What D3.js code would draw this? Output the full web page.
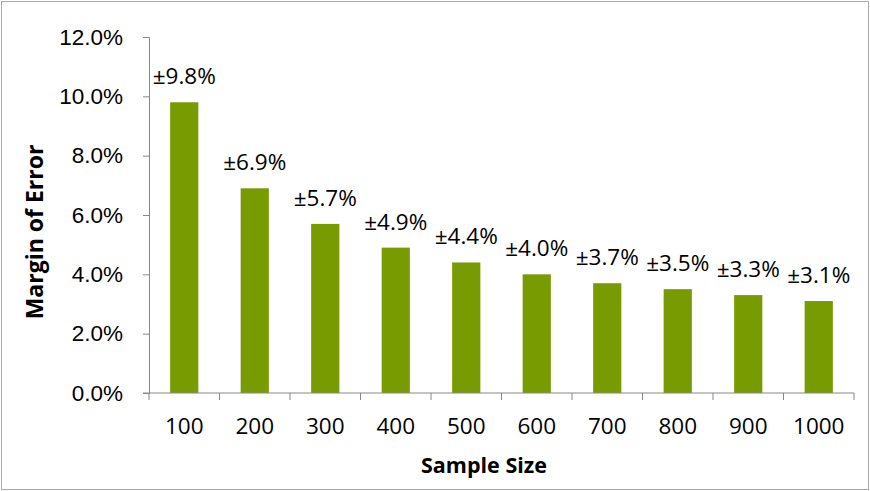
<!DOCTYPE html>
<html>
<head>
<meta charset="utf-8">
<script src="https://cdn.jsdelivr.net/npm/d3@7"></script>
<style>
  body { margin: 0; background: #fff; }
  svg { display: block; font-family: "Open Sans", "Liberation Sans", sans-serif; }
</style>
</head>
<body>
<svg id="chart" width="870" height="491"></svg>
<script>
const sampleSizes = ['100', '200', '300', '400', '500', '600', '700', '800', '900', '1000']
const marginOfError = [9.8, 6.9, 5.7, 4.9, 4.4, 4.0, 3.7, 3.5, 3.3, 3.1]
const yTicks = [0, 2, 4, 6, 8, 10, 12]

const svg = d3.select('#chart')
const width = +svg.attr('width')
const height = +svg.attr('height')
const margin = { top: 37, right: 16, bottom: 98, left: 149 }
const axisColor = '#888'
const fontSize = 22.5

// outer frame
svg.append('rect')
  .attr('x', 1.5).attr('y', 1.5)
  .attr('width', width - 3).attr('height', height - 3)
  .attr('fill', 'none').attr('stroke', '#aaa')

const x = d3.scaleBand()
  .domain(sampleSizes)
  .range([margin.left, width - margin.right])
  .paddingInner(0.6).paddingOuter(0.3)

const xCat = d3.scaleBand()
  .domain(sampleSizes)
  .range([margin.left, width - margin.right])

const y = d3.scaleLinear()
  .domain([0, 12])
  .range([height - margin.bottom, margin.top])

// y axis
const yAxis = svg.append('g')
  .attr('transform', `translate(${margin.left},0)`)
  .call(d3.axisLeft(y).tickValues(yTicks).tickFormat(d => d.toFixed(1) + '%').tickSize(6).tickPadding(20))
yAxis.select('.domain').attr('stroke', axisColor)
yAxis.selectAll('.tick line').attr('stroke', axisColor)
yAxis.selectAll('.tick text').attr('font-size', fontSize).attr('fill', '#000')

// bars
svg.append('g')
  .selectAll('rect')
  .data(marginOfError)
  .enter()
  .append('rect')
  .attr('x', (d, i) => x(sampleSizes[i]))
  .attr('y', d => y(d))
  .attr('width', x.bandwidth())
  .attr('height', d => y(0) - y(d))
  .attr('fill', '#789b02')

// data labels
svg.append('g')
  .selectAll('text')
  .data(marginOfError)
  .enter()
  .append('text')
  .attr('x', (d, i) => x(sampleSizes[i]) + x.bandwidth() / 2)
  .attr('y', d => y(d) - 18)
  .attr('text-anchor', 'middle')
  .attr('font-size', fontSize)
  .text(d => '±' + d.toFixed(1) + '%')

// x axis with ticks between categories
const xg = svg.append('g')
  .attr('transform', `translate(0,${y(0)})`)
xg.append('line')
  .attr('x1', margin.left - 6).attr('x2', width - margin.right)
  .attr('stroke', axisColor)
xg.selectAll('line.tick')
  .data(sampleSizes.concat(['end']))
  .enter()
  .append('line')
  .attr('class', 'tick')
  .attr('x1', (d, i) => i < sampleSizes.length ? xCat(d) : xCat.range()[1])
  .attr('x2', (d, i) => i < sampleSizes.length ? xCat(d) : xCat.range()[1])
  .attr('y2', 7)
  .attr('stroke', axisColor)
xg.selectAll('text')
  .data(sampleSizes)
  .enter()
  .append('text')
  .attr('x', d => xCat(d) + xCat.bandwidth() / 2)
  .attr('y', 41)
  .attr('text-anchor', 'middle')
  .attr('font-size', fontSize)
  .text(d => d)

// axis titles
svg.append('text')
  .attr('x', 484)
  .attr('y', 473)
  .attr('text-anchor', 'middle')
  .attr('font-size', 21.5)
  .attr('font-weight', 'bold')
  .text('Sample Size')

svg.append('text')
  .attr('transform', 'translate(43,232) rotate(-90)')
  .attr('text-anchor', 'middle')
  .attr('font-size', 23)
  .attr('font-weight', 'bold')
  .text('Margin of Error')
</script>
</body>
</html>
